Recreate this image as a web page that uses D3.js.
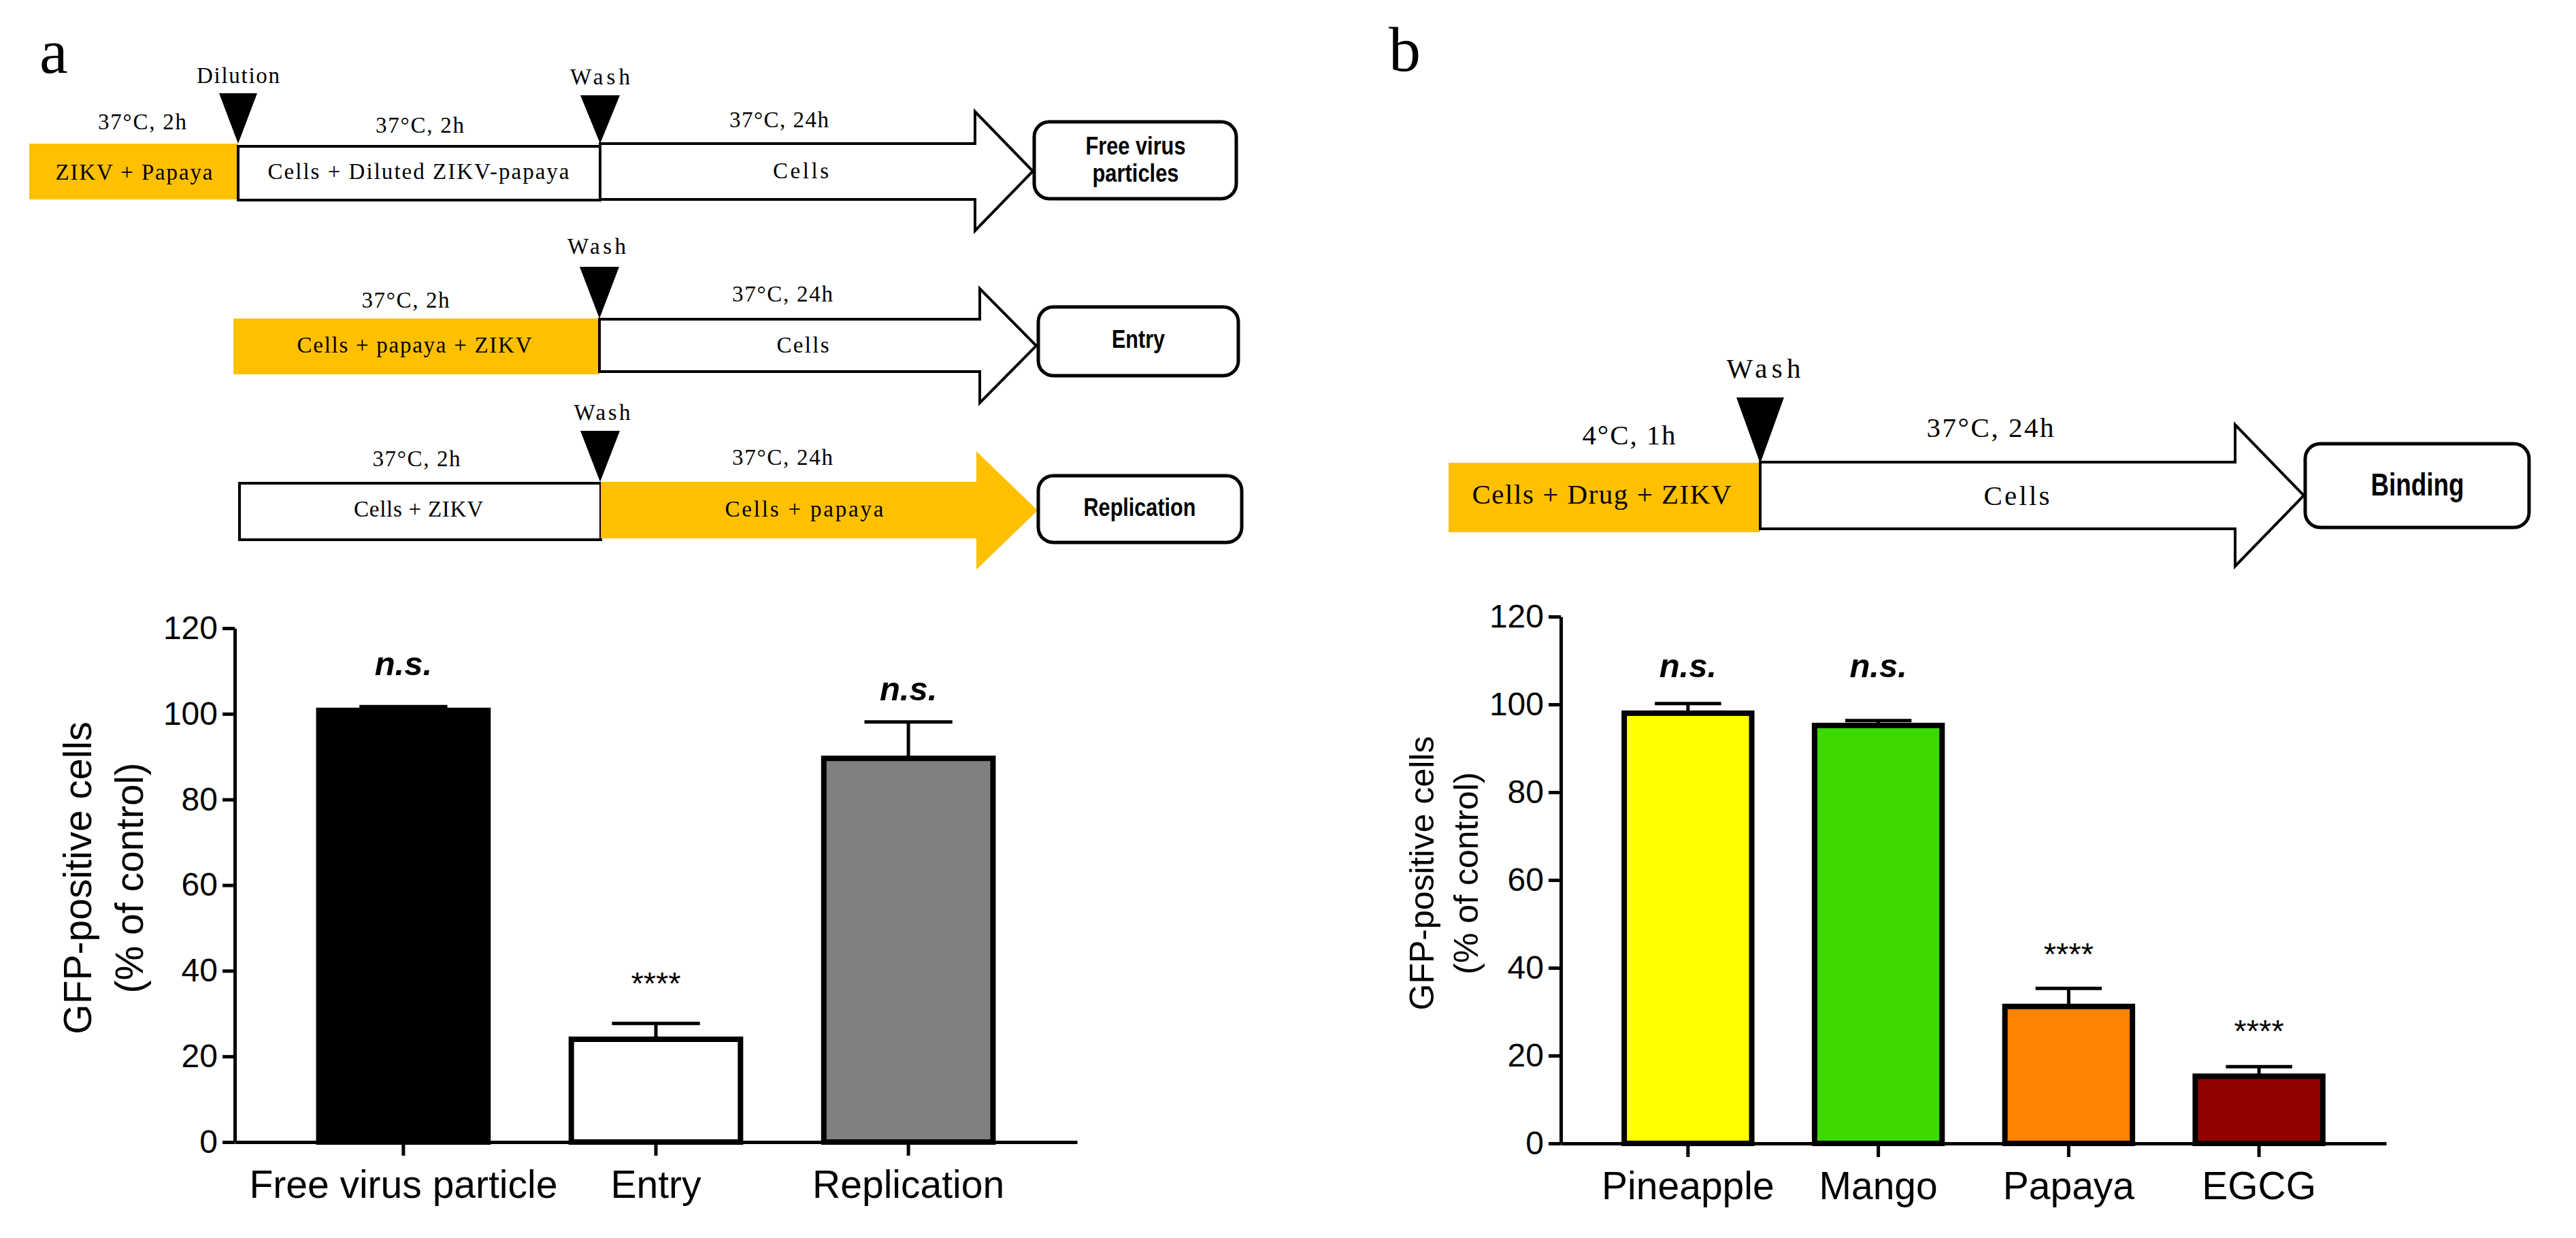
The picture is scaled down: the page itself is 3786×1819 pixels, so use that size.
<!DOCTYPE html>
<html>
<head>
<meta charset="utf-8">
<script src="https://cdn.jsdelivr.net/npm/d3@7"></script>
<style>
  body { margin: 0; background: #fff; }
  svg { display: block; }
</style>
</head>
<body>
<svg id="fig" width="3786" height="1819" viewBox="0 0 3786 1819"></svg>
<script>
// chart data
const catsA = ["Free virus particle", "Entry", "Replication"];
const valsA = [100.8, 24.0, 89.6];
const errsA = [0.9, 3.7, 8.5];
const fillsA = ["#000000", "#ffffff", "#808080"];
const sigA = ["n.s.", "****", "n.s."];
const sigYA = [109, 34.5, 103.2];

const catsB = ["Pineapple", "Mango", "Papaya", "EGCG"];
const valsB = [98.0, 95.2, 31.2, 15.3];
const errsB = [2.2, 1.1, 4.1, 2.2];
const fillsB = ["#ffff00", "#3cd800", "#ff8200", "#930000"];
const sigB = ["n.s.", "n.s.", "****", "****"];
const sigYB = [106.2, 106.2, 40.6, 23.1];

const yTicks = [0, 20, 40, 60, 80, 100, 120];
const yTitle = ["GFP-positive cells", "(% of control)"];

const ORANGE = "#ffc000";
const SERIF = "'Liberation Serif', 'Times New Roman', serif";
const SANS = "'Liberation Sans', Arial, sans-serif";
const NARROW = "'Liberation Sans Narrow', 'Arial Narrow', 'Liberation Sans', sans-serif";

const svg = d3.select("#fig");

// ---------- bar charts ----------
const drawChart = (cfg) => {
    const {cats, vals, errs, fills, sig, sigY, x0, x1, y0, y1, title} = cfg;
    const g = svg.append("g");

    const x = d3.scaleBand().domain(cats).range([x0, x1])
                .paddingInner(0.33).paddingOuter(0.333);
    const y = d3.scaleLinear().domain([0, 120]).range([y0, y1]);
    const bw = x.bandwidth();

    // bars
    g.selectAll("rect.bar").data(cats).enter().append("rect")
        .attr("class", "bar")
        .attr("x", d => x(d))
        .attr("width", bw)
        .attr("y", (d, i) => y(vals[i]))
        .attr("height", (d, i) => y(0) - y(vals[i]))
        .attr("fill", (d, i) => fills[i])
        .attr("stroke", "#000")
        .attr("stroke-width", 8);

    // error bars (upper only)
    const cx = d => x(d) + bw / 2;
    g.selectAll("line.err").data(cats).enter().append("line")
        .attr("x1", cx).attr("x2", cx)
        .attr("y1", (d, i) => y(vals[i]))
        .attr("y2", (d, i) => y(vals[i] + errs[i]))
        .attr("stroke", "#000").attr("stroke-width", 5);
    g.selectAll("line.cap").data(cats).enter().append("line")
        .attr("x1", d => cx(d) - bw * 0.26)
        .attr("x2", d => cx(d) + bw * 0.26)
        .attr("y1", (d, i) => y(vals[i] + errs[i]))
        .attr("y2", (d, i) => y(vals[i] + errs[i]))
        .attr("stroke", "#000").attr("stroke-width", 5);

    // significance marks
    g.selectAll("text.sig").data(cats).enter().append("text")
        .attr("x", cx)
        .attr("y", (d, i) => y(sigY[i]))
        .attr("text-anchor", "middle")
        .attr("font-family", SANS)
        .attr("font-size", (d, i) => sig[i] === "n.s." ? 49 : 47)
        .attr("font-weight", (d, i) => sig[i] === "n.s." ? "bold" : "normal")
        .attr("font-style", (d, i) => sig[i] === "n.s." ? "italic" : "normal")
        .text((d, i) => sig[i]);

    // axes
    const yAxis = g.append("g")
        .attr("transform", `translate(${x0},0)`)
        .call(d3.axisLeft(y).tickValues(yTicks).tickSize(18).tickSizeOuter(0).tickPadding(7));
    const xAxis = g.append("g")
        .attr("transform", `translate(0,${y0})`)
        .call(d3.axisBottom(x).tickSize(20).tickSizeOuter(0));

    [yAxis, xAxis].forEach(a => {
        a.select(".domain").attr("stroke", "#000").attr("stroke-width", 5);
        a.selectAll(".tick line").attr("stroke", "#000").attr("stroke-width", 5);
        a.selectAll("text").attr("fill", "#000").attr("font-family", SANS);
    });
    yAxis.selectAll("text").attr("font-size", 48);
    xAxis.selectAll("text").attr("font-size", 57).attr("y", 82).attr("dy", 0);

    // rotated y title
    title.lines.forEach((t, i) => {
        g.append("text")
            .attr("transform", `translate(${title.xs[i]},${title.cy}) rotate(-90)`)
            .attr("text-anchor", "middle")
            .attr("font-family", SANS)
            .attr("font-size", title.size)
            .text(t);
    });
};

drawChart({cats: catsA, vals: valsA, errs: errsA, fills: fillsA, sig: sigA, sigY: sigYA,
           x0: 345, x1: 1583, y0: 1678, y1: 923,
           title: {lines: yTitle, xs: [134, 210], cy: 1290, size: 57}});
drawChart({cats: catsB, vals: valsB, errs: errsB, fills: fillsB, sig: sigB, sigY: sigYB,
           x0: 2294, x1: 3507, y0: 1680, y1: 906,
           title: {lines: yTitle, xs: [2107, 2172], cy: 1283, size: 50}});

// ---------- schematic ----------
const dg = svg.append("g");

const box = (x0, x1, y0, y1, fill, stroke) => {
    dg.append("rect")
        .attr("x", x0).attr("y", y0)
        .attr("width", x1 - x0).attr("height", y1 - y0)
        .attr("fill", fill)
        .attr("stroke", stroke ? "#000" : "none")
        .attr("stroke-width", 4);
};

const arrow = (x0, xb, xt, by0, by1, hy0, hy1, fill, stroke) => {
    const ym = (hy0 + hy1) / 2;
    const pts = [[x0, by0], [xb, by0], [xb, hy0], [xt, ym], [xb, hy1], [xb, by1], [x0, by1]];
    dg.append("path")
        .attr("d", d3.line()(pts) + "Z")
        .attr("fill", fill)
        .attr("stroke", stroke ? "#000" : "none")
        .attr("stroke-width", 4)
        .attr("stroke-linejoin", "miter");
};

const marker = (xt, yb, yt, hw) => {
    dg.append("path")
        .attr("d", d3.line()([[xt - hw, yb], [xt + hw, yb], [xt, yt]]) + "Z")
        .attr("fill", "#000");
};

const rbox = (x0, x1, y0, y1) => {
    dg.append("rect")
        .attr("x", x0).attr("y", y0)
        .attr("width", x1 - x0).attr("height", y1 - y0)
        .attr("rx", 22).attr("ry", 22)
        .attr("fill", "#fff").attr("stroke", "#000").attr("stroke-width", 5);
};

const label = (cx, y, str, size, len, bold) => {
    dg.append("text")
        .attr("x", cx).attr("y", y)
        .attr("text-anchor", "middle")
        .attr("font-family", bold ? NARROW : SERIF)
        .attr("font-weight", bold ? "bold" : "normal")
        .attr("font-size", size)
        .attr("textLength", len)
        .attr("lengthAdjust", bold ? "spacingAndGlyphs" : "spacing")
        .text(str);
};

// row 1: free virus particles
box(43, 350, 211, 293, ORANGE, false);
box(350, 882, 215, 294, "#fff", true);
arrow(882, 1433, 1518, 211, 293, 164, 339, "#fff", true);
rbox(1520, 1817, 179, 292);
marker(350, 137, 211, 28);
marker(882, 140, 211, 29);

// row 2: entry
box(343, 881, 468, 550, ORANGE, false);
arrow(881, 1440, 1523, 469, 546, 424, 592, "#fff", true);
rbox(1526, 1820, 451, 552);
marker(881, 392, 468, 29);

// row 3: replication
box(352, 883, 710, 793, "#fff", true);
arrow(883, 1435, 1525, 708, 791, 663, 837, ORANGE, false);
rbox(1526, 1825, 699, 797);
marker(882, 633, 708, 29);

// panel b: binding
box(2129, 2587, 680, 782, ORANGE, false);
arrow(2587, 3285, 3386, 679, 777, 624, 832, "#fff", true);
rbox(3388, 3717, 652, 775);
marker(2587, 584, 681, 35);

// schematic text
const SA = 33, SB = 41;
label(350, 122, "Dilution", SA, 122);
label(882, 124, "Wash", SA, 88);
label(209, 190, "37°C, 2h", SA, 130);
label(617, 195, "37°C, 2h", SA, 130);
label(1145, 187, "37°C, 24h", SA, 146);
label(197, 264, "ZIKV + Papaya", SA, 231);
label(615, 263, "Cells + Diluted ZIKV-papaya", SA, 443);
label(1177, 262, "Cells", SA, 82);
label(1669, 227, "Free virus", 37, 147, true);
label(1669, 267, "particles", 37, 127, true);

label(877, 373, "Wash", SA, 86);
label(596, 452, "37°C, 2h", SA, 129);
label(1150, 443, "37°C, 24h", SA, 148);
label(609, 518, "Cells + papaya + ZIKV", SA, 345);
label(1180, 518, "Cells", SA, 77);
label(1673, 511, "Entry", 36, 78, true);

label(885, 617, "Wash", SA, 83);
label(612, 685, "37°C, 2h", SA, 129);
label(1150, 683, "37°C, 24h", SA, 148);
label(615, 759, "Cells + ZIKV", SA, 190);
label(1182, 759, "Cells + papaya", SA, 233);
label(1675, 758, "Replication", 36, 165, true);

label(2592, 555, "Wash", SB, 109);
label(2394, 653, "4°C, 1h", SB, 137);
label(2925, 642, "37°C, 24h", SB, 187);
label(2354, 740, "Cells + Drug + ZIKV", SB, 381);
label(2964, 742, "Cells", SB, 97);
label(3553, 728, "Binding", 46, 137, true);

// panel letters
svg.append("text").attr("x", 58).attr("y", 107)
    .attr("font-family", SERIF).attr("font-size", 94).text("a");
svg.append("text").attr("x", 2041).attr("y", 104)
    .attr("font-family", SERIF).attr("font-size", 94).text("b");
</script>
</body>
</html>
